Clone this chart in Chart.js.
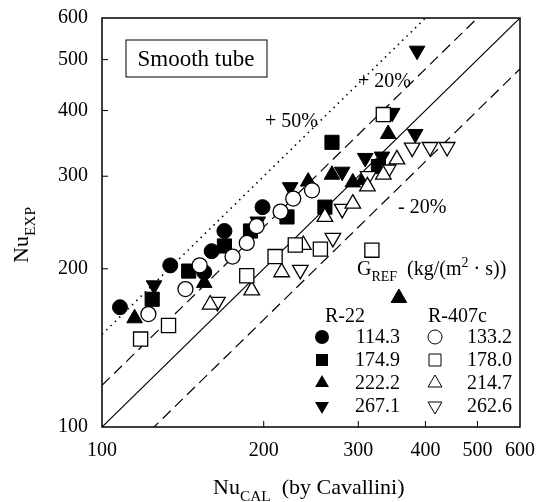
<!DOCTYPE html>
<html>
<head>
<meta charset="utf-8">
<script src="https://cdn.jsdelivr.net/npm/chart.js@4.4.0/dist/chart.umd.min.js"></script>
<style>
body { margin: 0; background: #fff; }
#wrap { width: 549px; height: 502px; }
</style>
</head>
<body>
<div id="wrap"><canvas id="myChart"></canvas></div>
<script>
// tick values (log axes)
var xTicks = [100, 200, 300, 400, 500, 600];
var yTicks = [100, 200, 300, 400, 500, 600];

// [Nu_CAL, Nu_EXP] pairs, R-22
var r22_1143 = [[108, 169], [134, 203], [155, 197], [160, 216], [169, 236], [199, 262]];
var r22_1749 = [[124, 175], [145, 198], [169, 221], [189, 236], [221, 251], [260, 262], [268, 348], [327, 313]];
var r22_2222 = [[115, 161], [155, 188], [242, 293], [268, 302], [293, 292], [306, 295], [341, 361], [357, 176]];
var r22_2671 = [[125, 186], [195, 246], [224, 286], [280, 306], [309, 325], [332, 327], [347, 396], [383, 361], [386, 520]];
// R-407c
var r407_1332 = [[122, 164], [143, 183], [152, 203], [175, 211], [186, 224], [194, 241], [215, 257], [227, 272], [246, 282]];
var r407_1780 = [[118, 147], [133, 156], [186, 194], [210, 211], [229, 222], [255, 218], [318, 217], [334, 393]];
var r407_2147 = [[159, 171], [190, 182], [216, 197], [237, 222], [260, 251], [293, 266], [312, 287], [334, 302], [354, 323]];
var r407_2626 = [[164, 173], [234, 199], [269, 229], [280, 260], [313, 300], [341, 309], [378, 340], [408, 341], [439, 341]];

// deviation lines: ratio Nu_EXP / Nu_CAL
var lineRatios = [1.0, 1.2, 0.8, 1.5];

var serif = "'Liberation Serif', 'Times New Roman', serif";

function pts(arr) {
    return arr.map(function (p) { return {x: p[0], y: p[1]}; });
}

function markerSet(data, style, filled, rot, r) {
    return {
        data: pts(data),
        pointStyle: style,
        rotation: rot || 0,
        pointRadius: r,
        pointHoverRadius: r,
        backgroundColor: filled ? '#000' : '#fff',
        borderColor: '#000',
        borderWidth: filled ? 1 : 1.3,
        showLine: false
    };
}

function refLine(k) {
    var dash = k === 1 ? [] : (k === 1.5 ? [1.5, 4.5] : [11, 6]);
    return {
        type: 'line',
        data: [{x: 100, y: 100 * k}, {x: 600, y: 600 * k}],
        borderColor: '#000',
        borderWidth: k === 1.5 ? 1.6 : 1.2,
        borderDash: dash,
        pointRadius: 0,
        showLine: true,
        fill: false
    };
}

// draws text with subscript/superscript parts
function richText(ctx, x, y, parts, size, align) {
    var w = 0;
    parts.forEach(function (p) {
        ctx.font = (p[1] ? size * 0.7 : size) + 'px ' + serif;
        w += ctx.measureText(p[0]).width;
    });
    var cx = align === 'center' ? x - w / 2 : x;
    ctx.textAlign = 'left';
    ctx.textBaseline = 'alphabetic';
    parts.forEach(function (p) {
        ctx.font = (p[1] ? size * 0.7 : size) + 'px ' + serif;
        var dy = p[1] === 'sub' ? size * 0.3 : (p[1] === 'sup' ? -size * 0.42 : 0);
        ctx.fillText(p[0], cx, y + dy);
        cx += ctx.measureText(p[0]).width;
    });
}

function mark(ctx, x, y, style, filled, r) {
    ctx.beginPath();
    if (style === 'circle') {
        ctx.arc(x, y, r, 0, Math.PI * 2);
    } else if (style === 'rect') {
        ctx.rect(x - r, y - r, 2 * r, 2 * r);
    } else {
        var s = style === 'up' ? 1 : -1;
        ctx.moveTo(x, y - s * r);
        ctx.lineTo(x + r * 0.87, y + s * r * 0.5);
        ctx.lineTo(x - r * 0.87, y + s * r * 0.5);
        ctx.closePath();
    }
    if (filled) { ctx.fillStyle = '#000'; ctx.fill(); }
    else { ctx.lineWidth = 1; ctx.strokeStyle = '#000'; ctx.stroke(); }
}

var decor = {
    id: 'decor',
    afterDraw: function (chart) {
        var ctx = chart.ctx, a = chart.chartArea;
        var xs = chart.scales.x, ys = chart.scales.y;
        ctx.save();
        ctx.strokeStyle = '#000';
        ctx.lineWidth = 1.5;
        ctx.strokeRect(a.left, a.top, a.right - a.left, a.bottom - a.top);
        ctx.lineWidth = 1;
        ctx.beginPath();
        xTicks.slice(1, -1).forEach(function (v) {
            var px = xs.getPixelForValue(v);
            ctx.moveTo(px, a.bottom);
            ctx.lineTo(px, a.bottom - 6);
        });
        yTicks.slice(1, -1).forEach(function (v) {
            var py = ys.getPixelForValue(v);
            ctx.moveTo(a.left, py);
            ctx.lineTo(a.left + 6, py);
        });
        ctx.stroke();

        // box label
        ctx.lineWidth = 1;
        ctx.fillStyle = '#fff';
        ctx.fillRect(126, 40, 141, 37);
        ctx.strokeRect(126, 40, 141, 37);
        ctx.fillStyle = '#000';
        richText(ctx, 196, 66, [['Smooth tube']], 23, 'center');

        // deviation labels
        richText(ctx, 265, 127, [['+ 50%']], 20);
        richText(ctx, 358, 87, [['+ 20%']], 20);
        richText(ctx, 398, 213, [['- 20%']], 20);

        // legend
        richText(ctx, 357, 275, [['G'], ['REF', 'sub'], ['  (kg/(m'], ['2', 'sup'], [' \u00b7 s))']], 20);
        richText(ctx, 325, 322, [['R-22']], 20);
        richText(ctx, 428, 322, [['R-407c']], 20);
        var rows = [['114.3', '133.2', 'circle'], ['174.9', '178.0', 'rect'],
                    ['222.2', '214.7', 'up'], ['267.1', '262.6', 'down']];
        rows.forEach(function (row, i) {
            var y = 337 + i * 23;
            var r = row[2] === 'circle' ? 7 : (row[2] === 'rect' ? 6 : 8);
            mark(ctx, 322, y, row[2], true, r);
            mark(ctx, 435, y, row[2], false, r);
            ctx.font = '20px ' + serif;
            ctx.textAlign = 'right';
            ctx.textBaseline = 'middle';
            ctx.fillStyle = '#000';
            ctx.fillText(row[0], 400, y + 1);
            ctx.fillText(row[1], 512, y + 1);
        });

        // axis titles
        richText(ctx, 213, 494, [['Nu'], ['CAL', 'sub'], ['  (by Cavallini)']], 22);
        ctx.translate(28, 235);
        ctx.rotate(-Math.PI / 2);
        richText(ctx, 0, 0, [['Nu'], ['EXP', 'sub']], 22, 'center');
        ctx.restore();
    }
};

var datasets = [
    markerSet(r407_1332, 'circle', false, 0, 7.5),
    markerSet(r407_1780, 'rect', false, 0, 10),
    markerSet(r407_2147, 'triangle', false, 0, 9),
    markerSet(r407_2626, 'triangle', false, 180, 9),
    markerSet(r22_1143, 'circle', true, 0, 7.5),
    markerSet(r22_1749, 'rect', true, 0, 10),
    markerSet(r22_2222, 'triangle', true, 0, 9),
    markerSet(r22_2671, 'triangle', true, 180, 9)
];
lineRatios.forEach(function (k) { datasets.push(refLine(k)); });

const ctx = document.getElementById('myChart');
new Chart(ctx, {
    type: 'scatter',
    data: {datasets: datasets},
    options: {
        responsive: true,
        maintainAspectRatio: false,
        animation: false,
        layout: {padding: {top: 18, right: 29, left: 0, bottom: 0}},
        plugins: {legend: {display: false}, tooltip: {enabled: false}},
        scales: {
            x: {
                type: 'logarithmic',
                min: 100,
                max: 600,
                afterFit: function (s) {
                    s.height = 75;
                    s.paddingLeft = 0;
                    s.paddingRight = 0;
                },
                afterBuildTicks: function (s) { s.ticks = xTicks.map(function (v) { return {value: v}; }); },
                grid: {display: false, drawTicks: false},
                border: {display: false},
                ticks: {
                    color: '#000',
                    padding: 12,
                    maxRotation: 0,
                    autoSkip: false,
                    font: {family: serif, size: 20},
                    callback: function (v) { return String(v); }
                }
            },
            y: {
                type: 'logarithmic',
                min: 100,
                max: 600,
                afterFit: function (s) {
                    s.width = 102;
                    s.paddingTop = 0;
                    s.paddingBottom = 0;
                },
                afterBuildTicks: function (s) { s.ticks = yTicks.map(function (v) { return {value: v}; }); },
                grid: {display: false, drawTicks: false},
                border: {display: false},
                ticks: {
                    color: '#000',
                    padding: 14,
                    autoSkip: false,
                    font: {family: serif, size: 20},
                    callback: function (v) { return String(v); }
                }
            }
        }
    },
    plugins: [decor]
});
</script>
</body>
</html>
